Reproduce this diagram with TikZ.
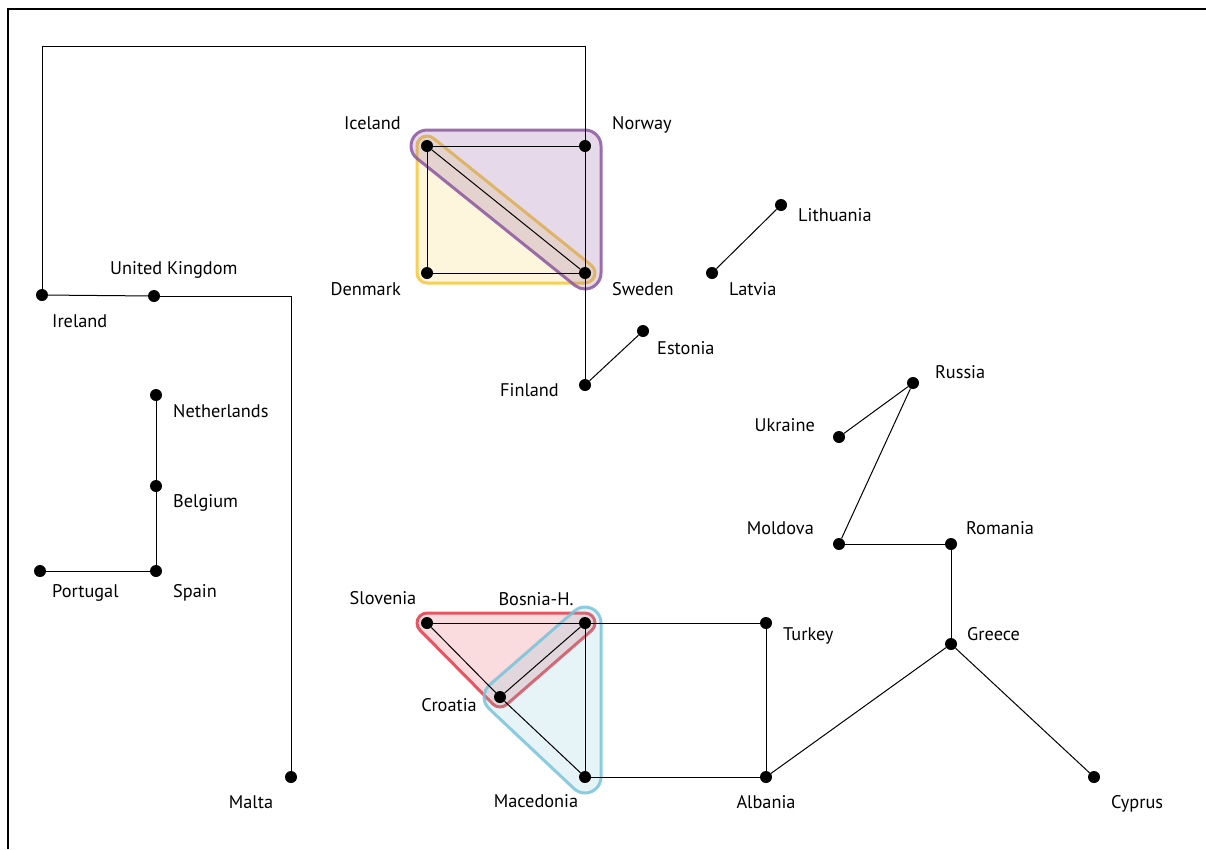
\documentclass[tikz,border=0pt]{standalone}
\usepackage{fontspec}
\setmainfont{PT Sans}
\begin{document}
\begin{tikzpicture}[x=1pt,y=-1pt,
  dot/.style={circle,fill=black,inner sep=0pt,minimum size=12pt},
  edge/.style={draw=black,line width=1pt},
  lab/.style={font=\fontsize{18.3}{21}\selectfont,inner sep=0pt},
  hull/.style={line width=3pt,line join=round,draw opacity=0.85},
  frame/.style={draw=black,line width=1.5pt}]
\definecolor{purpleC}{RGB}{139,87,160}
\definecolor{yellowC}{RGB}{245,200,60}
\definecolor{redC}{RGB}{228,58,72}
\definecolor{blueC}{RGB}{120,195,218}
\useasboundingbox (0,0) rectangle (1206,849);
\draw[frame] (8,849) -- (8,9) -- (1206,9);
% hulls
\path[hull,draw=yellowC,fill=yellowC,fill opacity=0.18]
  (433.27,138.21) -- (591.27,265.21) arc[start angle=-51.21,end angle=90,radius=10]
  -- (427,283) arc[start angle=90,end angle=180,radius=10]
  -- (417,146) arc[start angle=180,end angle=308.79,radius=10] -- cycle;
\path[hull,draw=purpleC,fill=purpleC,fill opacity=0.22]
  (427,130) -- (585,130) arc[start angle=-90,end angle=0,radius=16]
  -- (601,273) arc[start angle=0,end angle=128.79,radius=16]
  -- (416.98,158.47) arc[start angle=128.79,end angle=270,radius=16] -- cycle;
\path[hull,draw=redC,fill=redC,fill opacity=0.18]
  (427,613) -- (585,613) arc[start angle=-90,end angle=48.96,radius=10]
  -- (506.57,704.54) arc[start angle=48.96,end angle=135.39,radius=10]
  -- (419.88,630.02) arc[start angle=135.39,end angle=270,radius=10] -- cycle;
\path[hull,draw=blueC,fill=blueC,fill opacity=0.185]
  (601,623) -- (601,777) arc[start angle=0,end angle=133.26,radius=16]
  -- (489.04,708.65) arc[start angle=133.26,end angle=228.96,radius=16]
  -- (574.49,610.93) arc[start angle=228.96,end angle=360,radius=16] -- cycle;
% nodes
\node[dot] (ice) at (427,146) {};
\node[dot] (nor) at (585,146) {};
\node[dot] (den) at (427,273) {};
\node[dot] (swe) at (585,273) {};
\node[dot] (lit) at (781,205) {};
\node[dot] (lat) at (712,273) {};
\node[dot] (est) at (643,331) {};
\node[dot] (fin) at (585,385) {};
\node[dot] (ire) at (42,295) {};
\node[dot] (uk) at (154,296) {};
\node[dot] (mal) at (291,777) {};
\node[dot] (net) at (156,395) {};
\node[dot] (bel) at (156,486) {};
\node[dot] (spa) at (156,571) {};
\node[dot] (por) at (40,571) {};
\node[dot] (rus) at (913,383) {};
\node[dot] (ukr) at (839,437) {};
\node[dot] (mol) at (839,544) {};
\node[dot] (rom) at (951,544) {};
\node[dot] (gre) at (951,644) {};
\node[dot] (cyp) at (1094,777) {};
\node[dot] (slo) at (427,623) {};
\node[dot] (bos) at (585,623) {};
\node[dot] (cro) at (500,697) {};
\node[dot] (mac) at (585,777) {};
\node[dot] (tur) at (766,623) {};
\node[dot] (alb) at (766,777) {};
\coordinate (top) at (585,46);
% edges
\draw[edge] (ire.center) |- (top) -- (fin.center);
\draw[edge] (ire) -- (uk);
\draw[edge] (uk.center) -| (mal.center);
\draw[edge] (ice) -- (nor);
\draw[edge] (ice) -- (den);
\draw[edge] (den) -- (swe);
\draw[edge] (ice) -- (swe);
\draw[edge] (lit) -- (lat);
\draw[edge] (est) -- (fin);
\draw[edge] (net) -- (bel);
\draw[edge] (bel) -- (spa);
\draw[edge] (por) -- (spa);
\draw[edge] (rus) -- (ukr);
\draw[edge] (rus) -- (mol);
\draw[edge] (mol) -- (rom);
\draw[edge] (rom) -- (gre);
\draw[edge] (gre) -- (alb);
\draw[edge] (gre) -- (cyp);
\draw[edge] (slo) -- (bos);
\draw[edge] (slo) -- (cro);
\draw[edge] (cro) -- (bos);
\draw[edge] (cro) -- (mac);
\draw[edge] (bos) -- (mac);
\draw[edge] (bos) -- (tur);
\draw[edge] (tur) -- (alb);
\draw[edge] (mac) -- (alb);
% labels
\node[lab,anchor=base east] (lice) at (401,129) {Iceland};
\node[lab,anchor=base west] (lnor) at (612,129) {Norway};
\node[lab,anchor=base east] (lden) at (401,295) {Denmark};
\node[lab,anchor=base west] (lswe) at (612,295) {Sweden};
\node[lab,anchor=base west] (llit) at (798,221) {Lithuania};
\node[lab,anchor=base west] (llat) at (729,295) {Latvia};
\node[lab,anchor=base west] (lest) at (657,354) {Estonia};
\node[lab,anchor=base east] (lfin) at (559,396) {Finland};
\node[lab,anchor=base west] (luk) at (110,274) {United Kingdom};
\node[lab,anchor=base west] (lire) at (52,327) {Ireland};
\node[lab,anchor=base west] (lnet) at (173,417) {Netherlands};
\node[lab,anchor=base west] (lbel) at (173,507) {Belgium};
\node[lab,anchor=base west] (lspa) at (173,597) {Spain};
\node[lab,anchor=base west] (lpor) at (52,597) {Portugal};
\node[lab,anchor=base] (lmal) at (251,808) {Malta};
\node[lab,anchor=base] (lslo) at (383,604) {Slovenia};
\node[lab,anchor=base] (lbos) at (536,605) {Bosnia-H.};
\node[lab,anchor=base east] (lcro) at (477,711) {Croatia};
\node[lab,anchor=base] (lmac) at (536,807) {Macedonia};
\node[lab,anchor=base west] (ltur) at (783,640) {Turkey};
\node[lab,anchor=base] (lalb) at (766,808) {Albania};
\node[lab,anchor=base west] (lrus) at (935,378) {Russia};
\node[lab,anchor=base east] (lukr) at (815,431) {Ukraine};
\node[lab,anchor=base east] (lmol) at (814,534) {Moldova};
\node[lab,anchor=base west] (lrom) at (966,534) {Romania};
\node[lab,anchor=base west] (lgre) at (967,640) {Greece};
\node[lab,anchor=base west] (lcyp) at (1111,808) {Cyprus};
\end{tikzpicture}
\end{document}
